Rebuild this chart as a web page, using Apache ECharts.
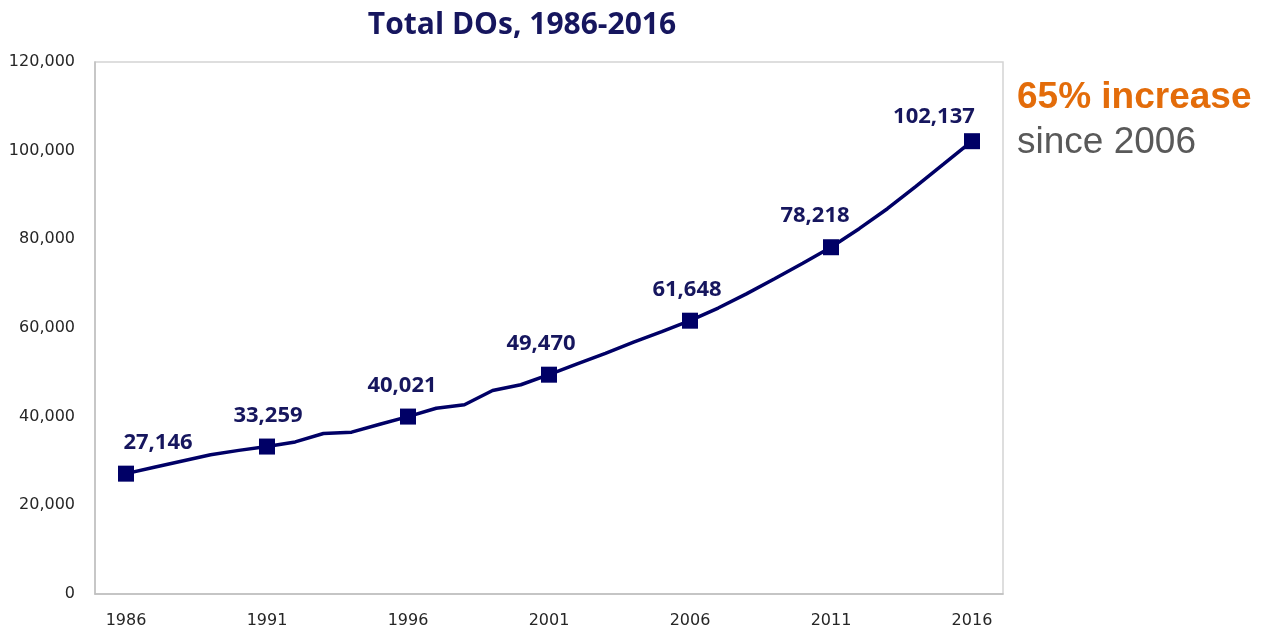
<!DOCTYPE html>
<html>
<head>
<meta charset="utf-8">
<title>Total DOs, 1986-2016</title>
<script src="https://cdn.jsdelivr.net/npm/echarts@6/dist/echarts.min.js"></script>
<style>
    html, body { margin: 0; padding: 0; background: #fff; }
    #chart { width: 1265px; height: 629px; }
</style>
</head>
<body>
<div id="chart"></div>
<script>
// yearly totals (labelled years are exact)
const years = [1986, 1987, 1988, 1989, 1990, 1991, 1992, 1993, 1994, 1995,
    1996, 1997, 1998, 1999, 2000, 2001, 2002, 2003, 2004, 2005,
    2006, 2007, 2008, 2009, 2010, 2011, 2012, 2013, 2014, 2015, 2016];
const totalDOs = [27146, 28600, 30000, 31400, 32400, 33259, 34300, 36200, 36500, 38300,
    40021, 41900, 42700, 45900, 47200, 49470, 51900, 54300, 56800, 59200,
    61648, 64500, 67700, 71100, 74600, 78218, 82400, 86900, 91900, 97000, 102137];
const labelledYears = [1986, 1991, 1996, 2001, 2006, 2011, 2016];
const yTicks = [0, 20000, 40000, 60000, 80000, 100000, 120000];

const navy = '#000066';
const axisFont = "'DejaVu Sans', sans-serif";
// nudge of each value label, by labelled year
const labelShift = {
    1986: [32, -2], 1991: [1, -2], 1996: [-6, -2], 2001: [-8, -2],
    2006: [-3, -2], 2011: [-16, -2], 2016: [-38, 5]
};

const chart = echarts.init(document.getElementById('chart'));

const seriesData = years.map((y, i) => {
    const marked = labelledYears.indexOf(y) >= 0;
    return {
        value: [y, totalDOs[i]],
        symbol: marked ? 'rect' : 'none',
        symbolSize: marked ? 16 : 0,
        label: {
            show: marked,
            offset: marked ? labelShift[y] : [0, 0]
        }
    };
});

chart.setOption({
    animation: false,
    title: {
        text: 'Total DOs, 1986-2016',
        left: 517,
        top: 5,
        textAlign: 'center',
        textStyle: {
            color: '#16165e',
            fontFamily: 'Open Sans',
            fontWeight: 'bold',
            fontSize: 30
        }
    },
    grid: {
        left: 95,
        right: 262,
        top: 62,
        bottom: 34,
        show: true,
        borderColor: '#d4d4d4',
        borderWidth: 1.5
    },
    xAxis: {
        type: 'value',
        min: 1984.9,
        max: 2017.1,
        splitLine: { show: false },
        axisTick: { show: false },
        axisLine: { lineStyle: { color: '#bfbfbf', width: 1.5 } },
        axisLabel: {
            customValues: labelledYears,
            margin: 19,
            color: '#262626',
            fontFamily: axisFont,
            fontSize: 16,
            formatter: v => String(v)
        }
    },
    yAxis: {
        type: 'value',
        min: 0,
        max: 120000,
        interval: 20000,
        splitLine: { show: false },
        axisTick: { show: false },
        axisLine: { show: true, lineStyle: { color: '#bfbfbf', width: 1.5 } },
        axisLabel: {
            customValues: yTicks,
            margin: 20,
            color: '#262626',
            fontFamily: axisFont,
            fontSize: 16,
            formatter: v => v.toLocaleString('en-US')
        }
    },
    series: [{
        type: 'line',
        data: seriesData,
        lineStyle: { color: navy, width: 3.5 },
        itemStyle: { color: navy },
        label: {
            position: 'top',
            distance: 10,
            color: '#16165e',
            fontFamily: 'Open Sans',
            fontWeight: 'bold',
            fontSize: 22,
            formatter: p => p.value[1].toLocaleString('en-US')
        }
    }],
    graphic: [{
        type: 'text',
        x: 1017,
        y: 98,
        style: {
            text: '65% increase',
            fill: '#e36c0a',
            verticalAlign: 'middle',
            font: 'bold 37px "Liberation Sans", Arial, sans-serif'
        }
    }, {
        type: 'text',
        x: 1017,
        y: 143,
        style: {
            text: 'since 2006',
            fill: '#595959',
            verticalAlign: 'middle',
            font: '37px "Liberation Sans", Arial, sans-serif'
        }
    }]
});
</script>
</body>
</html>
